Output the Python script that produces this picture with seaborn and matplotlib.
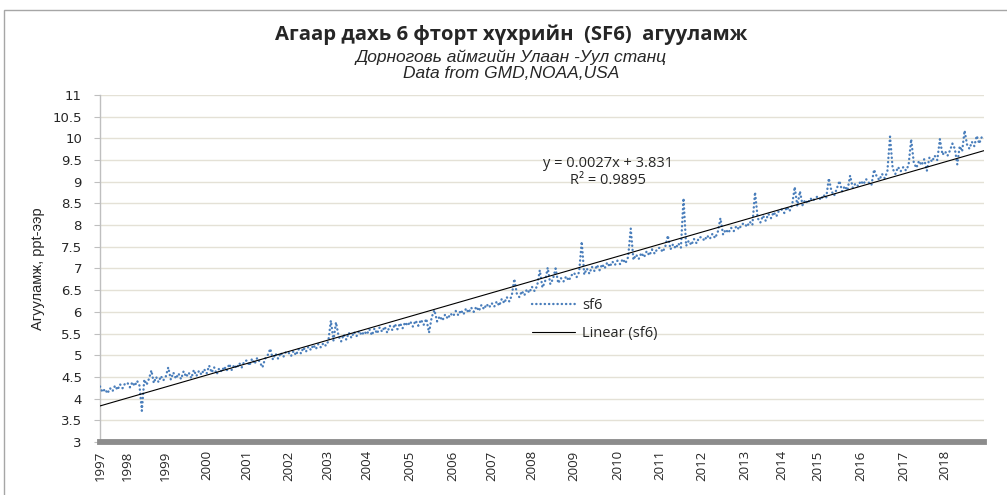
import numpy as np
import pandas as pd
import seaborn as sns
import matplotlib.pyplot as plt
from matplotlib.patches import Rectangle

years = list(range(1997, 2019))
# category index at which each year begins, and the last index of the series
year_starts = [0, 68, 162, 263, 362, 465, 563, 658, 765, 871, 966,
               1065, 1169, 1276, 1381, 1484, 1589, 1681, 1771, 1876, 1981, 2084]
last_index = 2180

# SF6, ppt (roughly 16 readings per year)
sf6_1997 = [4.28, 4.15, 4.22, 4.12, 4.24, 4.17, 4.30, 4.20, 4.33, 4.24, 4.35]
sf6_1998 = [4.36, 4.26, 4.38, 4.29, 4.41, 4.30, 3.72, 4.44, 4.32, 4.46, 4.65, 4.36, 4.50, 4.38, 4.52, 4.42]
sf6_1999 = [4.50, 4.72, 4.44, 4.60, 4.46, 4.58, 4.45, 4.63, 4.50, 4.60, 4.47, 4.66, 4.52, 4.64, 4.55, 4.68]
sf6_2000 = [4.58, 4.76, 4.60, 4.72, 4.56, 4.70, 4.62, 4.74, 4.64, 4.80, 4.66, 4.78, 4.70, 4.82, 4.72, 4.86]
sf6_2001 = [4.88, 4.76, 4.92, 4.80, 4.94, 4.84, 4.72, 4.92, 5.00, 5.15, 4.90, 5.04, 4.92, 5.06, 4.96, 5.08]
sf6_2002 = [5.06, 4.98, 5.10, 5.00, 5.14, 5.04, 5.18, 5.08, 5.20, 5.12, 5.24, 5.14, 5.26, 5.18, 5.28, 5.22]
sf6_2003 = [5.32, 5.80, 5.34, 5.76, 5.44, 5.32, 5.48, 5.36, 5.52, 5.40, 5.54, 5.44, 5.56, 5.46, 5.55]
sf6_2004 = [5.48, 5.60, 5.46, 5.62, 5.50, 5.64, 5.54, 5.66, 5.52, 5.68, 5.58, 5.72, 5.60, 5.74, 5.62, 5.76, 5.68]
sf6_2005 = [5.78, 5.66, 5.80, 5.68, 5.82, 5.70, 5.84, 5.52, 5.88, 6.04, 5.78, 5.90, 5.80, 5.94, 5.84, 5.96]
sf6_2006 = [5.90, 6.02, 5.92, 6.04, 5.94, 6.08, 5.98, 6.10, 6.00, 6.12, 6.02, 6.16, 6.06, 6.18, 6.10]
sf6_2007 = [6.20, 6.12, 6.24, 6.14, 6.30, 6.20, 6.34, 6.24, 6.38, 6.76, 6.42, 6.34, 6.48, 6.38, 6.52, 6.44]
sf6_2008 = [6.58, 6.48, 6.60, 6.96, 6.56, 6.70, 7.02, 6.64, 6.76, 7.00, 6.66, 6.78, 6.70, 6.82, 6.72, 6.84]
sf6_2009 = [6.90, 6.80, 6.92, 7.62, 6.86, 7.00, 6.88, 7.04, 6.94, 7.08, 6.96, 7.10, 7.00, 7.14, 7.04, 7.16, 7.08]
sf6_2010 = [7.18, 7.10, 7.22, 7.12, 7.26, 7.92, 7.20, 7.32, 7.22, 7.36, 7.26, 7.40, 7.30, 7.44, 7.34, 7.46]
sf6_2011 = [7.48, 7.38, 7.50, 7.76, 7.44, 7.56, 7.46, 7.58, 7.48, 8.62, 7.52, 7.64, 7.54, 7.68, 7.58, 7.72]
sf6_2012 = [7.72, 7.64, 7.76, 7.68, 7.80, 7.70, 7.84, 8.16, 7.78, 7.90, 7.82, 7.94, 7.86, 7.98, 7.90, 8.02]
sf6_2013 = [8.04, 7.96, 8.08, 8.00, 8.76, 8.16, 8.06, 8.22, 8.10, 8.26, 8.16, 8.30, 8.20, 8.34]
sf6_2014 = [8.36, 8.28, 8.42, 8.32, 8.46, 8.88, 8.44, 8.78, 8.46, 8.58, 8.50, 8.62, 8.56, 8.64]
sf6_2015 = [8.66, 8.58, 8.70, 8.62, 9.08, 8.78, 8.68, 8.84, 9.02, 8.78, 8.90, 8.80, 9.14, 8.86, 8.96, 8.90]
sf6_2016 = [9.02, 8.94, 9.06, 8.98, 8.92, 9.28, 9.12, 9.04, 9.18, 9.08, 9.24, 10.04, 9.30, 9.18, 9.34, 9.24]
sf6_2017 = [9.34, 9.26, 9.38, 9.98, 9.44, 9.32, 9.48, 9.38, 9.52, 9.25, 9.56, 9.46, 9.60, 9.50, 9.98, 9.62]
sf6_2018 = [9.70, 9.60, 9.72, 9.88, 9.76, 9.40, 9.82, 9.70, 10.18, 9.86, 9.76, 9.92, 9.82, 10.06, 9.88, 10.02]

sf6_by_year = [sf6_1997, sf6_1998, sf6_1999, sf6_2000, sf6_2001, sf6_2002, sf6_2003,
               sf6_2004, sf6_2005, sf6_2006, sf6_2007, sf6_2008, sf6_2009, sf6_2010,
               sf6_2011, sf6_2012, sf6_2013, sf6_2014, sf6_2015, sf6_2016, sf6_2017, sf6_2018]

# Excel linear trendline shown on the chart
slope, intercept = 0.0027, 3.831
r_squared = 0.9895

ends = year_starts[1:] + [last_index]
rows = []
for start, end, vals in zip(year_starts, ends, sf6_by_year):
    pos = np.linspace(start, end, len(vals), endpoint=False)
    rows += list(zip(pos, vals))
df = pd.DataFrame(rows, columns=['idx', 'ppt'])

trend = pd.DataFrame({'idx': [0, last_index]})
trend['ppt'] = slope * trend['idx'] + intercept

sns.set_theme(style='white')
plt.rcParams['font.family'] = ['Open Sans', 'DejaVu Sans']

fig = plt.figure(figsize=(10.07, 4.95), dpi=100)
ax = fig.add_axes([0.0993, 0.1071, 0.8779, 0.701])

sns.lineplot(data=df, x='idx', y='ppt', ax=ax, color='#4A7EBB', linewidth=1.7,
             linestyle=(0, (0.1, 1.7)), dash_capstyle='round', label='sf6', zorder=3)
sns.lineplot(data=trend, x='idx', y='ppt', ax=ax, color='black', linewidth=0.8,
             label='Linear (sf6)', zorder=4)

ax.set_xlim(0, last_index)
ax.set_ylim(3, 11)
yt = np.arange(3, 11.01, 0.5)
ax.set_yticks(yt)
ax.set_yticklabels([f'{v:g}' for v in yt], family='DejaVu Sans', fontsize=9.5)
ax.set_xticks(year_starts)
ax.set_xticklabels([str(y) for y in years], rotation=90, fontsize=9.5)
ax.tick_params(axis='x', length=0, pad=6)
ax.tick_params(axis='y', length=4, width=0.8, color='#BFBFBF', left=True, pad=9)

ax.grid(axis='y', color='#E4E1D6', linewidth=1)
ax.grid(axis='x', visible=False)
for s in ['top', 'right']:
    ax.spines[s].set_visible(False)
ax.spines['left'].set_color('#BFBFBF')
ax.spines['left'].set_linewidth(1)
ax.spines['bottom'].set_color('#8C8C8C')
ax.spines['bottom'].set_linewidth(4.2)

ax.set_xlabel('')
ax.set_ylabel('Агууламж, ppt-ээр', family=['Liberation Sans', 'DejaVu Sans'], fontsize=10.5)
ax.yaxis.set_label_coords(-0.062, 0.5)

ax.text(0.5747, 0.778, f'y = {slope}x + {intercept}\nR² = {r_squared}', transform=ax.transAxes,
        ha='center', va='center', fontsize=10.5, linespacing=1.25)

ax.legend(loc='upper left', bbox_to_anchor=(0.4887, 0.415), frameon=False, fontsize=10.5,
          borderpad=0, borderaxespad=0, handlelength=2.95, handletextpad=0.5, labelspacing=0.9)

fig.text(0.508, 0.929, 'Агаар дахь 6 фторт хүхрийн  (SF6)  агууламж',
         ha='center', va='center', fontsize=14.6, fontweight='bold')
fig.text(0.508, 0.885, 'Дорноговь аймгийн Улаан -Уул станц', ha='center', va='center',
         fontsize=12.5, style='italic', family=['Liberation Sans', 'DejaVu Sans'])
fig.text(0.508, 0.851, 'Data from GMD,NOAA,USA', ha='center', va='center',
         fontsize=12.5, style='italic', family=['Liberation Sans', 'DejaVu Sans'])

fig.patches.append(Rectangle((4 / 1007, -0.01), 1.0, 1 - 10 / 495 + 0.01, transform=fig.transFigure,
                             fill=False, edgecolor='#A6A6A6', linewidth=1))

fig.savefig('out.png', dpi=100)
